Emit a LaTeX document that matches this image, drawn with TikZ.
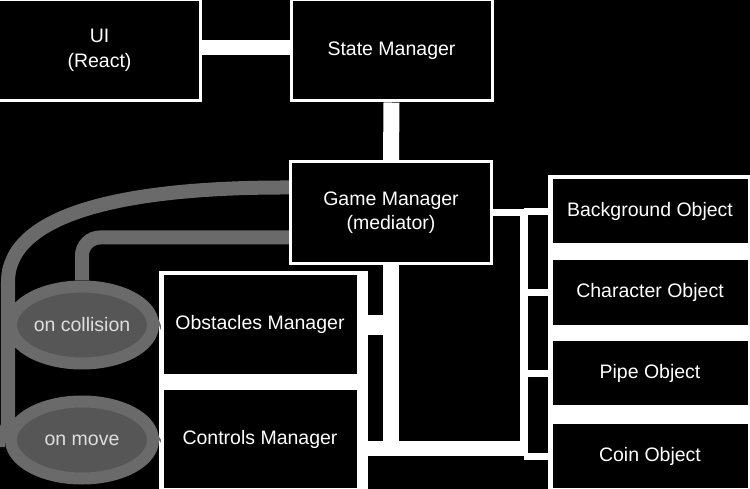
\documentclass[tikz,border=0pt]{standalone}
\usepackage{fontspec}
\setmainfont{Liberation Sans}
\usetikzlibrary{arrows.meta,calc,shapes.geometric}
\definecolor{halo}{RGB}{106,106,106}
\definecolor{ovalfill}{RGB}{86,86,86}
\definecolor{ovaltext}{RGB}{222,222,222}
\pgfdeclarelayer{under}
\pgfsetlayers{under,main}
\begin{document}
\begin{tikzpicture}[x=1bp,y=-1bp,
  font=\fontsize{19.5bp}{24.5bp}\selectfont,
  box/.style={draw=white, line width=3bp, fill=black, text=white,
    align=center, inner sep=0pt},
  bigbox/.style={box, minimum width=201bp, minimum height=101bp},
  mgrbox/.style={box, minimum width=196bp, minimum height=101bp},
  objbox/.style={box, minimum width=198bp, minimum height=67bp},
  oval/.style={ellipse, fill=ovalfill, draw=halo, line width=12bp,
    text=ovaltext, inner sep=0pt, minimum width=142bp, minimum height=77bp},
  wire/.style={draw=white, line cap=butt},
  gwire/.style={draw=halo, line width=14bp, line cap=butt, rounded corners=18bp},
  panel/.style={fill=white}]

\useasboundingbox (0,0) rectangle (750,489);

% boxes
\node[bigbox] (ui)    at (99.5,50.5)  {UI\\(React)};
\node[bigbox] (state) at (391.5,50.5) {State Manager};
\node[bigbox] (game)  at (391,212.5)  {Game Manager\\(mediator)};
\node[objbox] (bg)    at (650,211.5)  {Background Object};
\node[objbox] (chr)   at (650,292.5)  {Character Object};
\node[objbox] (pipe)  at (650,373)    {Pipe Object};
\node[objbox] (coin)  at (650,456)    {Coin Object};
\node[mgrbox] (obst)  at (260,324.5)  {Obstacles Manager};
\node[mgrbox] (ctrl)  at (260,439)    {Controls Manager};

% event ovals
\node[oval] (coll) at (82,325) {on collision};
\node[oval] (move) at (82,440) {on move};

% routing points
\coordinate (bustop) at (524,212.5);
\coordinate (busbot) at (524,455);
\coordinate (join)   at (392,448);
\coordinate (bend)   at (8,300);
\coordinate (movein) at ($(game.west)+(0,-25)$);
\coordinate (collin) at ($(game.west)+(0,25)$);

\begin{pgfonlayer}{under}
  \fill[black] (0,0) rectangle (750,489);
  % light panels behind the stacked boxes
  \fill[panel] (548,175) rectangle (750,489);
  \fill[panel] (159,271) rectangle (368,489);

  % white links
  \draw[wire, line width=15bp] ($(ui.east)+(0,-3)$) -- ($(state.west)+(0,-3)$);
  \draw[wire, line width=16bp] (state.south) -- (game.north);
  \draw[wire, line width=7bp] (game.east) -- (bustop);
  \draw[wire, line width=8bp, line cap=square] (bustop) -- (busbot);
  \foreach \n in {bg,chr,pipe,coin}
    \draw[wire, line width=7bp] (bustop |- \n.west) -- (\n.west);
  \draw[wire, line width=16bp, line cap=square] (game.south) -- (game.south |- join);
  \draw[wire, line width=15bp] (ctrl.east |- join) -- (busbot |- join);
  \draw[wire, line width=20bp] (obst.east) -- (obst.east -| game.south);

  % grey event links
  \draw[gwire] (move.west) -- (move.west -| bend) -- (bend)
    .. controls (8,215) and (120,187) .. (movein);
  \draw[gwire] (coll.north) |- (collin);
  \draw[gwire, line width=10bp] (coll.east) -- (obst.west);
  \draw[gwire, line width=10bp] (move.east) -- (ctrl.west);
\end{pgfonlayer}
\end{tikzpicture}
\end{document}
